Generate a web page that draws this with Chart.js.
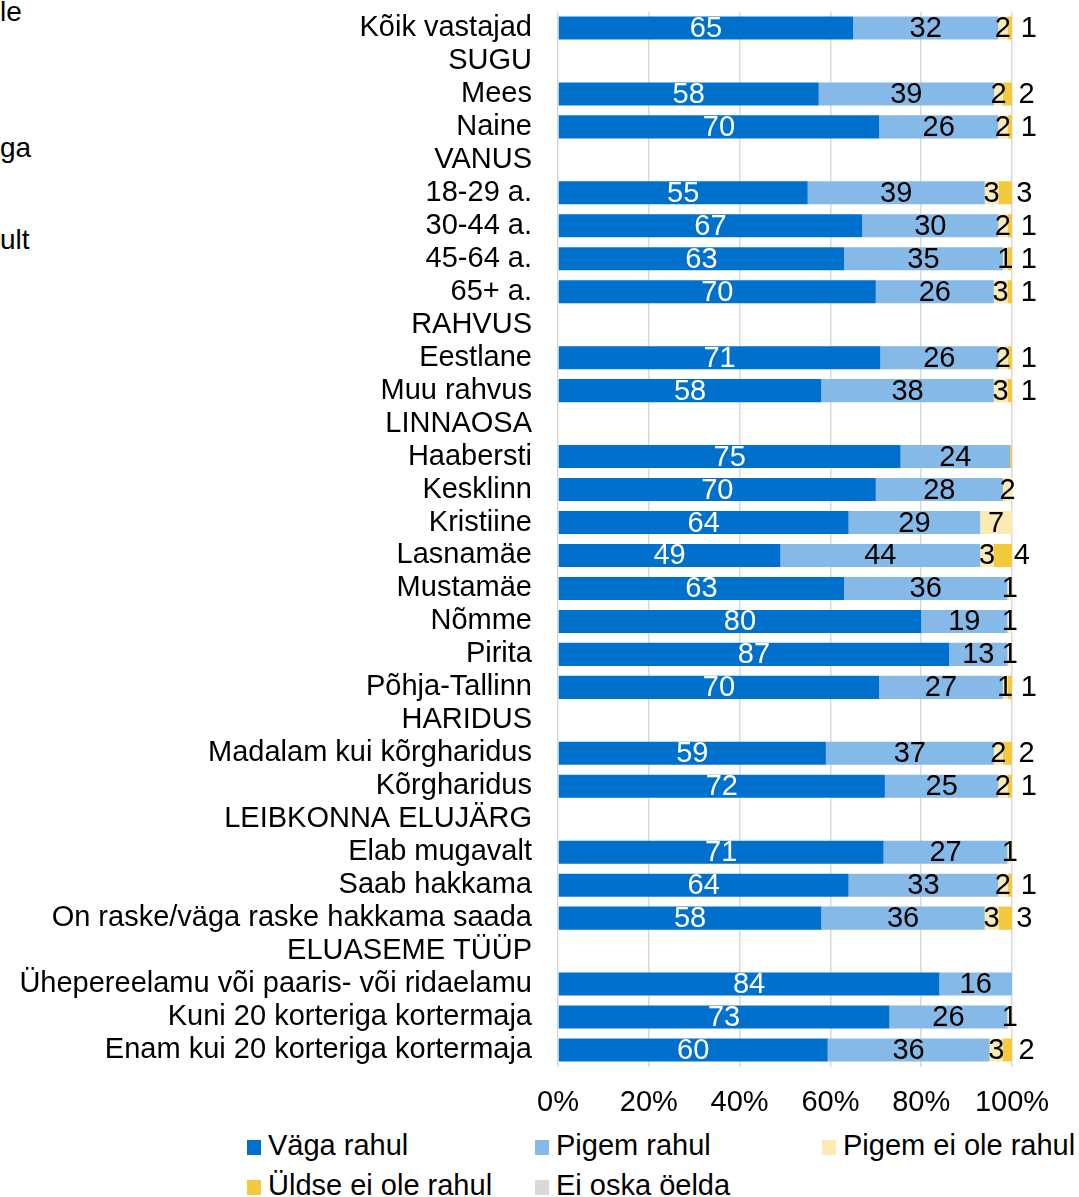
<!DOCTYPE html>
<html>
<head>
<meta charset="utf-8">
<script src="https://cdn.jsdelivr.net/npm/chart.js@4/dist/chart.umd.min.js"></script>
<style>
  body { margin: 0; background: #fff; font-family: "Liberation Sans", Arial, sans-serif; }
  #wrap { position: relative; width: 1079px; height: 1197px; overflow: hidden; }
  #chartBox { position: absolute; left: 0; top: 0; width: 1079px; height: 1125px; }
  .cut { position: absolute; left: 0; font-size: 28px; line-height: 34px; color: #000; }
  .leg { position: absolute; font-size: 29px; line-height: 40px; color: #000; white-space: nowrap; }
  .leg i { display: inline-block; width: 14px; height: 15px; margin-right: 7px; vertical-align: 0px; }
</style>
</head>
<body>
<div id="wrap">
  <div class="cut" style="top:-5px">le</div>
  <div class="cut" style="top:131px">ga</div>
  <div class="cut" style="top:223px">ult</div>
  <div id="chartBox"><canvas id="reportChart"></canvas></div>
  <div id="legend"></div>
</div>
<script>
// rows of the chart, group headers have no bars
const categories = [
    'Kõik vastajad', 'SUGU', 'Mees', 'Naine',
    'VANUS', '18-29 a.', '30-44 a.', '45-64 a.', '65+ a.',
    'RAHVUS', 'Eestlane', 'Muu rahvus',
    'LINNAOSA', 'Haabersti', 'Kesklinn', 'Kristiine', 'Lasnamäe', 'Mustamäe', 'Nõmme', 'Pirita', 'Põhja-Tallinn',
    'HARIDUS', 'Madalam kui kõrgharidus', 'Kõrgharidus',
    'LEIBKONNA ELUJÄRG', 'Elab mugavalt', 'Saab hakkama', 'On raske/väga raske hakkama saada',
    'ELUASEME TÜÜP', 'Ühepereelamu või paaris- või ridaelamu', 'Kuni 20 korteriga kortermaja', 'Enam kui 20 korteriga kortermaja'
];
const seriesNames = ['Väga rahul', 'Pigem rahul', 'Pigem ei ole rahul', 'Üldse ei ole rahul', 'Ei oska öelda'];
const seriesColors = ['#0070CD', '#85B9E7', '#FBEAB2', '#F3CA3C', '#D9D9D9'];

const vagaRahul     = [65, null, 58, 70, null, 55, 67, 63, 70, null, 71, 58, null, 75, 70, 64, 49, 63, 80, 87, 70, null, 59, 72, null, 71, 64, 58, null, 84, 73, 60];
const pigemRahul    = [32, null, 39, 26, null, 39, 30, 35, 26, null, 26, 38, null, 24, 28, 29, 44, 36, 19, 13, 27, null, 37, 25, null, 27, 33, 36, null, 16, 26, 36];
const pigemEiRahul  = [2, null, 2, 2, null, 3, 2, 1, 3, null, 2, 3, null, 0, 2, 7, 3, 1, 1, 1, 1, null, 2, 2, null, 1, 2, 3, null, 0, 1, 3];
const uldseEiRahul  = [1, null, 2, 1, null, 3, 1, 1, 1, null, 1, 1, null, 0.4, 0, 0, 4, 0, 0, 0, 1, null, 2, 1, null, 0, 1, 3, null, 0, 0, 2];
const eiOskaOelda   = [0, null, 0, 0, null, 0, 0, 0, 0, null, 0, 0, null, 0, 0, 0, 0, 0, 0, 0, 0, null, 0, 0, null, 0, 0, 0, null, 0, 0, 0];
const xTicks = [0, 20, 40, 60, 80, 100];

const FONT = 'Liberation Sans';
const rawSeries = [vagaRahul, pigemRahul, pigemEiRahul, uldseEiRahul, eiOskaOelda];

// 100% stacked like Excel: every row is scaled to its own total
const rowTotals = categories.map((c, j) => rawSeries.reduce((s, d) => s + (d[j] || 0), 0));
const shareOf = (d) => d.map((v, j) => v == null ? null : v * 100 / rowTotals[j]);

// value labels drawn in the middle of each segment, "Üldse ei ole" one goes right of the bar
const valueLabels = {
    id: 'valueLabels',
    afterDatasetsDraw(chart) {
        const ctx = chart.ctx;
        ctx.save();
        ctx.font = '29px "' + FONT + '"';
        ctx.textAlign = 'center';
        ctx.textBaseline = 'middle';
        chart.data.datasets.forEach((ds, i) => {
            const meta = chart.getDatasetMeta(i);
            meta.data.forEach((el, j) => {
                const v = rawSeries[i][j];
                if (v == null || Math.round(v) === 0) return;
                let x = (el.x + el.base) / 2;
                if (i === 3) x += 19;
                ctx.fillStyle = i === 0 ? '#fff' : '#000';
                ctx.fillText(String(Math.round(v)), x, el.y + 1);
            });
        });
        ctx.restore();
    }
};

const ctx = document.getElementById('reportChart');
const reportChart = new Chart(ctx, {
    type: 'bar',
    data: {
        labels: categories,
        datasets: rawSeries.map((d, i) => ({
            label: seriesNames[i],
            data: shareOf(d),
            backgroundColor: seriesColors[i],
            borderWidth: 0,
            barPercentage: 0.7,
            categoryPercentage: 1.0
        }))
    },
    options: {
        indexAxis: 'y',
        responsive: true,
        maintainAspectRatio: false,
        animation: false,
        layout: { padding: { top: 11.5, right: 67, left: 0, bottom: 0 } },
        scales: {
            x: {
                stacked: true,
                min: 0,
                max: 100,
                afterBuildTicks: (scale) => { scale.ticks = xTicks.map(v => ({ value: v })); },
                afterFit: (scale) => {
                    scale.height = 58.5;
                    scale.paddingLeft = 0;
                    scale.paddingRight = 0;
                },
                grid: { color: '#D9D9D9', lineWidth: 1.5, drawTicks: false },
                border: { display: false },
                ticks: {
                    padding: 19,
                    color: '#000',
                    font: { family: FONT, size: 29 },
                    callback: (v) => v + '%'
                }
            },
            y: {
                stacked: true,
                afterFit: (scale) => {
                    scale.width = 558;
                    scale.paddingTop = 0;
                    scale.paddingBottom = 0;
                },
                grid: { display: false, drawTicks: false },
                border: { display: false },
                ticks: {
                    autoSkip: false,
                    padding: 26,
                    color: '#000',
                    font: { family: FONT, size: 29 }
                }
            }
        },
        plugins: {
            legend: { display: false },
            tooltip: { enabled: false }
        }
    },
    plugins: [valueLabels]
});

// legend laid out in three columns like the original
const legendLeft = [247, 535, 822];
const legendTop = [1125, 1165];
const legendBox = document.getElementById('legend');
reportChart.data.datasets.forEach((ds, i) => {
    const item = document.createElement('div');
    item.className = 'leg';
    item.style.left = legendLeft[i % 3] + 'px';
    item.style.top = legendTop[Math.floor(i / 3)] + 'px';
    item.innerHTML = '<i style="background:' + ds.backgroundColor + '"></i>' + ds.label;
    legendBox.appendChild(item);
});
</script>
</body>
</html>
